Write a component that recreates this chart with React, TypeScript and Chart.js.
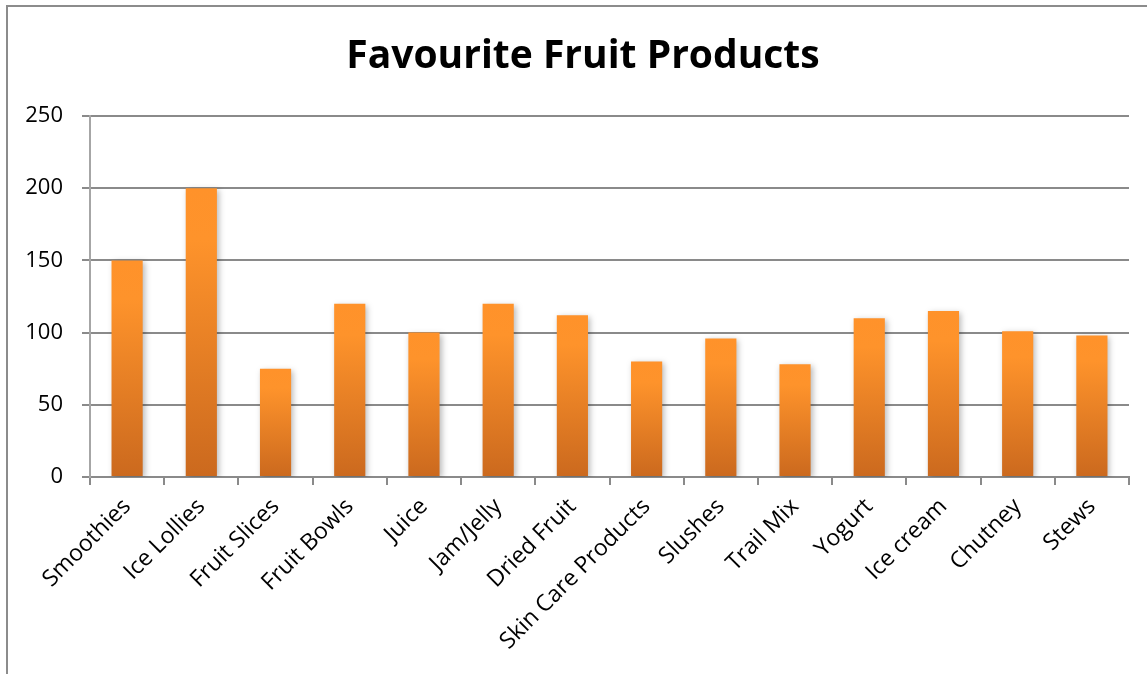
import React, { useEffect, useRef } from "react";
import { Chart, registerables } from "chart.js";

Chart.register(...registerables);

const categories = [
  "Smoothies",
  "Ice Lollies",
  "Fruit Slices",
  "Fruit Bowls",
  "Juice",
  "Jam/Jelly",
  "Dried Fruit",
  "Skin Care Products",
  "Slushes",
  "Trail Mix",
  "Yogurt",
  "Ice cream",
  "Chutney",
  "Stews",
];
const values = [150, 200, 75, 120, 100, 120, 112, 80, 96, 78, 110, 115, 101, 98];
const yMin = 0;
const yMax = 250;
const yStep = 50;
const titleText = "Favourite Fruit Products";

const FONT = "'Open Sans', 'Noto Sans', sans-serif";

const shadowPlugin = {
  id: "barShadow",
  beforeDatasetsDraw(chart: any) {
    const c = chart.ctx;
    c.save();
    c.shadowColor = "rgba(0,0,0,0.28)";
    c.shadowBlur = 6;
    c.shadowOffsetX = 2;
    c.shadowOffsetY = 2;
  },
  afterDatasetsDraw(chart: any) {
    chart.ctx.restore();
  },
};

const titlePlugin = {
  id: "customTitle",
  afterDraw(chart: any) {
    const c = chart.ctx;
    c.save();
    c.font = `bold 39px ${FONT}`;
    c.fillStyle = "#000";
    c.textAlign = "center";
    c.textBaseline = "middle";
    c.fillText(titleText, 583, 57);
    c.restore();
  },
};

export default function App() {
  const ref = useRef<HTMLCanvasElement | null>(null);

  useEffect(() => {
    if (!ref.current) return;
    const chart = new Chart(ref.current, {
      type: "bar",
      data: {
        labels: categories,
        datasets: [
          {
            data: values,
            backgroundColor: (ctx: any) => {
              const ch = ctx.chart;
              if (!ch.chartArea || !ch.scales.y) return "#F28A2A";
              const v = values[ctx.dataIndex] ?? 0;
              const yTop = ch.scales.y.getPixelForValue(v);
              const yBot = ch.scales.y.getPixelForValue(0);
              if (!isFinite(yTop) || !isFinite(yBot) || yBot - yTop < 1) return "#F28A2A";
              const g = ch.ctx.createLinearGradient(0, yTop, 0, yBot);
              g.addColorStop(0, "#FF922A");
              g.addColorStop(0.18, "#FE932B");
              g.addColorStop(1, "#CB691E");
              return g;
            },
            borderWidth: 0,
            categoryPercentage: 1,
            barPercentage: 0.42,
          },
        ],
      },
      options: {
        animation: false,
        responsive: false,
        maintainAspectRatio: false,
        layout: { padding: { left: 20, right: 18, top: 116, bottom: 0 } },
        plugins: {
          legend: { display: false },
          tooltip: { enabled: false },
          title: { display: false },
        },
        scales: {
          x: {
            offset: true,
            grid: {
              offset: true,
              drawOnChartArea: false,
              drawTicks: true,
              tickLength: 8,
              color: "#8a8a8a",
              lineWidth: 2,
            },
            border: { display: true, color: "#8a8a8a", width: 2 },
            ticks: {
              color: "#000",
              font: { family: FONT, size: 23 },
              maxRotation: 45,
              minRotation: 45,
              padding: 8,
              autoSkip: false,
            },
            afterFit: (s: any) => {
              s.height = 197;
            },
          },
          y: {
            min: yMin,
            max: yMax,
            ticks: {
              stepSize: yStep,
              color: "#000",
              font: { family: FONT, size: 22 },
              padding: 19,
            },
            grid: {
              color: "#8a8a8a",
              lineWidth: 2,
              tickLength: 8,
            },
            border: { display: true, color: "#a6a6a6", width: 2 },
            afterFit: (s: any) => {
              s.width = 70;
            },
          },
        },
      },
      plugins: [shadowPlugin, titlePlugin],
    });
    return () => chart.destroy();
  }, []);

  return (
    <div style={{ position: "fixed", left: 0, top: 0, width: 1147, height: 674, background: "#fff", overflow: "hidden" }}>
      <canvas ref={ref} width={1147} height={674} style={{ display: "block", width: 1147, height: 674 }} />
      <div
        style={{
          position: "absolute",
          left: 6,
          top: 5,
          width: 2000,
          height: 2000,
          border: "2px solid #8c8c8c",
          pointerEvents: "none",
        }}
      />
    </div>
  );
}
